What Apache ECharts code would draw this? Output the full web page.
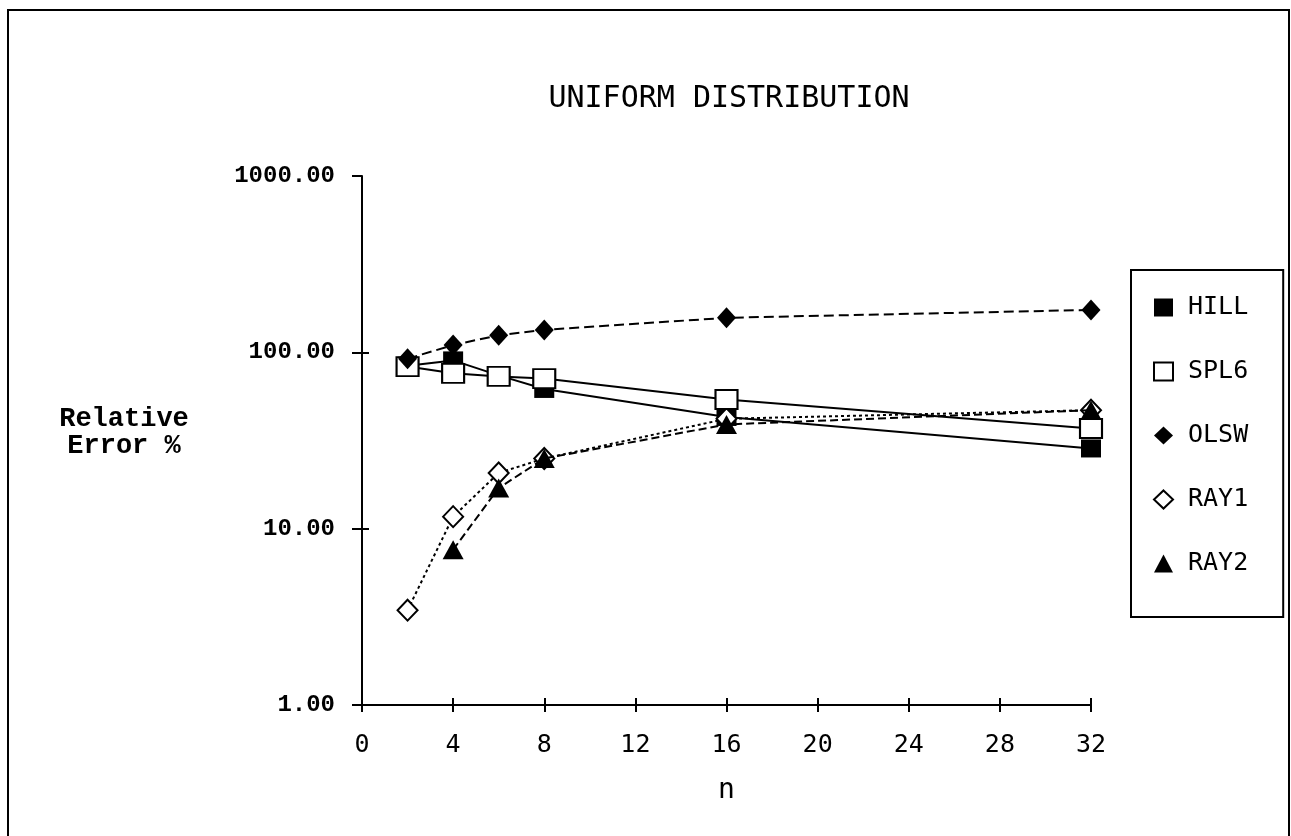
<!DOCTYPE html>
<html>
<head>
<meta charset="utf-8">
<script src="https://cdn.jsdelivr.net/npm/echarts@6/dist/echarts.min.js"></script>
<style>
html,body{margin:0;padding:0;background:#fff;}
#chart{width:1291px;height:836px;}
</style>
</head>
<body>
<div id="chart"></div>
<script>
// ---- data ----
const nValues = [2, 4, 6, 8, 16, 32];
const hill = [84, 90, 74, 62, 43, 28.5];
const spl6 = [83, 76, 73, 71, 54, 37];
const olsw = [92, 110, 125, 134, 157, 174];
const ray1 = [3.45, 11.7, 20.7, 25, 42, 47];
const ray2 = [null, 7.6, 17, 25, 39, 47];
const seriesNames = ['HILL', 'SPL6', 'OLSW', 'RAY1', 'RAY2'];
const xTicks = [0, 4, 8, 12, 16, 20, 24, 28, 32];
const yTicks = [1, 10, 100, 1000];

const titleText = 'UNIFORM DISTRIBUTION';
const yName = 'Relative\nError %';
const xName = 'n';

function pairs(vals) {
  return nValues.map((n, i) => vals[i] == null ? [n, '-'] : [n, vals[i]]);
}

const thinFont = 'DejaVu Sans Mono';
const boldFont = 'Liberation Mono';

const chart = echarts.init(document.getElementById('chart'), null, {renderer: 'canvas'});

const baseX = {
  type: 'value', min: 0, max: 32, interval: 4, position: 'bottom', gridIndex: 0,
  splitLine: {show: false}
};
const baseY = {
  type: 'log', logBase: 10, min: 1, max: 1000, position: 'left', gridIndex: 0,
  splitLine: {show: false}
};

const option = {
  backgroundColor: '#fff',
  animation: false,
  title: [
    {
      text: titleText, left: 724, top: 79, textAlign: 'center',
      textStyle: {fontFamily: thinFont, fontWeight: 'normal', fontSize: 30, color: '#000'}
    },
    {
      text: yName, left: 119, top: 401, textAlign: 'center',
      textStyle: {fontFamily: boldFont, fontWeight: 'bold', fontSize: 27, color: '#000', lineHeight: 27}
    }
  ],
  grid: {left: 362, right: 200, top: 176, bottom: 131, containLabel: false},
  legend: {
    orient: 'vertical', left: 1131, top: 270,
    padding: [25, 35, 41, 22],
    itemGap: 39, itemWidth: 19, itemHeight: 18,
    borderColor: '#000', borderWidth: 2,
    data: [
      {name: 'HILL', icon: 'rect'},
      {name: 'SPL6', icon: 'rect'},
      {name: 'OLSW', icon: 'diamond'},
      {name: 'RAY1', icon: 'diamond'},
      {name: 'RAY2', icon: 'triangle'}
    ],
    textStyle: {fontFamily: thinFont, fontSize: 25, color: '#000', padding: [0, 0, 0, 10]}
  },
  xAxis: [
    Object.assign({}, baseX, {
      name: xName, nameLocation: 'middle', nameGap: 72,
      nameTextStyle: {fontFamily: thinFont, fontSize: 28, color: '#000'},
      axisLine: {show: true, onZero: false, lineStyle: {color: '#000', width: 2}},
      axisTick: {show: true, inside: false, length: 7, lineStyle: {color: '#000', width: 2}},
      axisLabel: {margin: 28, fontFamily: thinFont, fontSize: 25, color: '#000',
        customValues: xTicks}
    }),
    Object.assign({}, baseX, {
      axisLine: {show: false, onZero: false},
      axisTick: {show: true, inside: true, length: 7, lineStyle: {color: '#000', width: 2}},
      axisLabel: {show: false}
    })
  ],
  yAxis: [
    Object.assign({}, baseY, {
      axisLine: {show: true, onZero: false, lineStyle: {color: '#000', width: 2}},
      axisTick: {show: true, inside: false, length: 10, lineStyle: {color: '#000', width: 2}},
      axisLabel: {margin: 27, fontFamily: boldFont, fontWeight: 'bold', fontSize: 24, color: '#000',
        formatter: v => Number(v).toFixed(2)}
    }),
    Object.assign({}, baseY, {
      axisLine: {show: false, onZero: false},
      axisTick: {show: true, inside: true, length: 7, customValues: [1, 10, 100],
        lineStyle: {color: '#000', width: 2}},
      axisLabel: {show: false}
    })
  ],
  series: [
    {
      name: 'HILL', type: 'line', data: pairs(hill), z: 2,
      symbol: 'rect', symbolSize: [20, 18], showSymbol: true,
      itemStyle: {color: '#000'},
      lineStyle: {color: '#000', width: 2, type: 'solid'}
    },
    {
      name: 'RAY1', type: 'line', data: pairs(ray1), z: 3,
      symbol: 'diamond', symbolSize: [20, 21],
      itemStyle: {color: '#fff', borderColor: '#000', borderWidth: 2},
      lineStyle: {color: '#000', width: 2, type: [3, 3]}
    },
    {
      name: 'RAY2', type: 'line', data: pairs(ray2), z: 4, connectNulls: false,
      symbol: 'triangle', symbolSize: [21, 19],
      itemStyle: {color: '#000'},
      lineStyle: {color: '#000', width: 2, type: [8, 4]}
    },
    {
      name: 'SPL6', type: 'line', data: pairs(spl6), z: 5,
      symbol: 'rect', symbolSize: [22, 19],
      itemStyle: {color: '#fff', borderColor: '#000', borderWidth: 2},
      lineStyle: {color: '#000', width: 2, type: 'solid'}
    },
    {
      name: 'OLSW', type: 'line', data: pairs(olsw), z: 6,
      symbol: 'diamond', symbolSize: [19, 21],
      itemStyle: {color: '#000'},
      lineStyle: {color: '#000', width: 2, type: [10, 5]}
    }
  ].map(s => Object.assign(s, {silent: true, emphasis: {disabled: true}})),
  graphic: [
    {
      type: 'rect', silent: true, z: -1,
      shape: {x: 8, y: 10, width: 1281, height: 900},
      style: {fill: 'none', stroke: '#000', lineWidth: 2}
    }
  ]
};

chart.setOption(option);
</script>
</body>
</html>
